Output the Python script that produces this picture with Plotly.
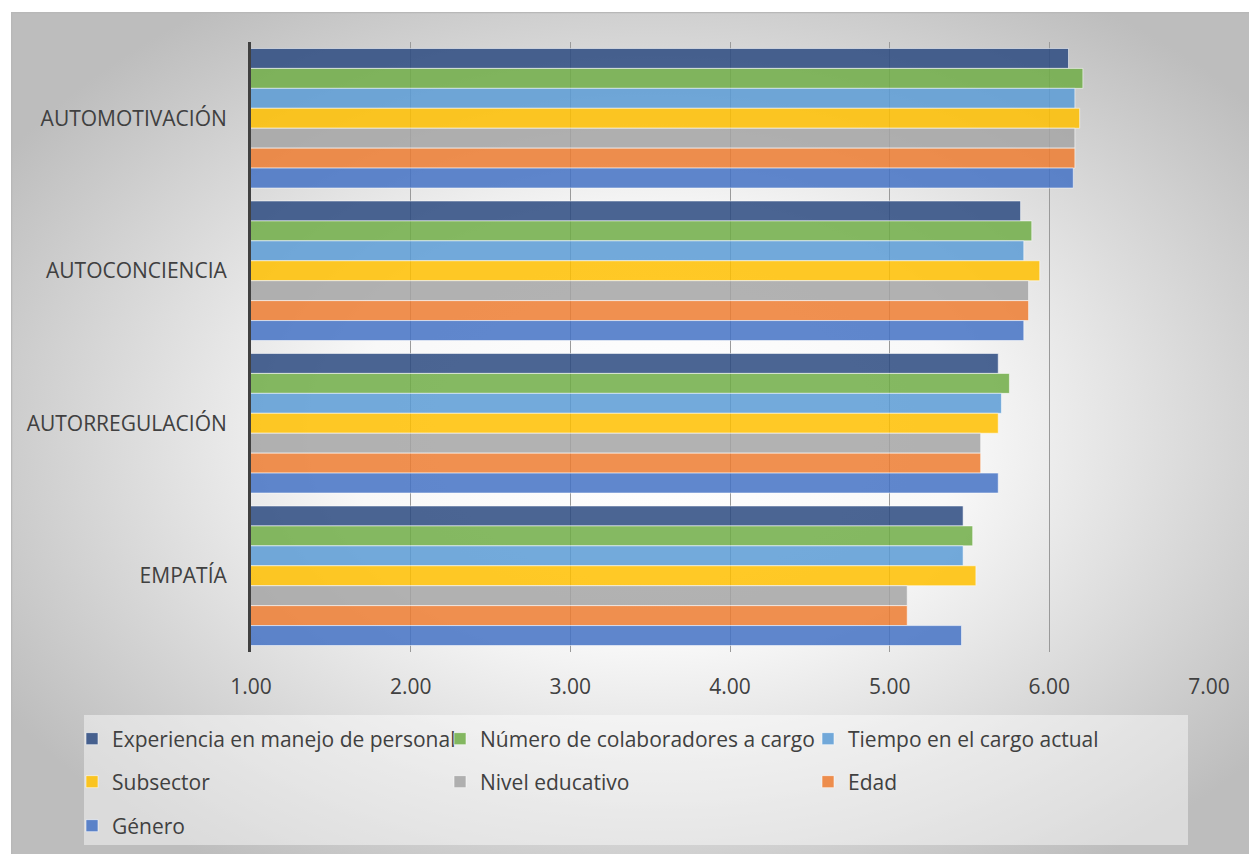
import base64
import plotly.graph_objects as go

categories = ["AUTOMOTIVACIÓN", "AUTOCONCIENCIA", "AUTORREGULACIÓN", "EMPATÍA"]

series_names = [
    "Experiencia en manejo de personal",
    "Número de colaboradores a cargo",
    "Tiempo en el cargo actual",
    "Subsector",
    "Nivel educativo",
    "Edad",
    "Género",
]

experiencia = [6.12, 5.82, 5.68, 5.46]
numero = [6.21, 5.89, 5.75, 5.52]
tiempo = [6.16, 5.84, 5.70, 5.46]
subsector = [6.19, 5.94, 5.68, 5.54]
nivel = [6.16, 5.87, 5.57, 5.11]
edad = [6.16, 5.87, 5.57, 5.11]
genero = [6.15, 5.84, 5.68, 5.45]

series_values = [experiencia, numero, tiempo, subsector, nivel, edad, genero]

x_ticks = [1, 2, 3, 4, 5, 6, 7]

colors = [
    "rgba(44,74,128,0.85)",
    "rgba(112,173,71,0.85)",
    "rgba(91,155,213,0.85)",
    "rgba(255,192,0,0.85)",
    "rgba(165,165,165,0.85)",
    "rgba(237,125,49,0.85)",
    "rgba(68,114,196,0.85)",
]
legend_ids = ["legend", "legend", "legend", "legend2", "legend2", "legend2", "legend3"]

fig = go.Figure()
for name, vals, col, lg in zip(series_names, series_values, colors, legend_ids):
    fig.add_trace(go.Bar(
        y=categories, x=vals, name=name, orientation="h",
        marker=dict(color=col, line=dict(color="rgba(255,255,255,0.55)", width=1)),
        legend=lg,
    ))

# gradient background panel (SVG)
svg = """<svg xmlns='http://www.w3.org/2000/svg' width='1238' height='842' viewBox='0 0 1238 842'>
<defs><radialGradient id='g' cx='52%' cy='50%' r='62%'>
<stop offset='0' stop-color='#ffffff'/>
<stop offset='0.4' stop-color='#f8f8f8'/>
<stop offset='1' stop-color='#bdbdbd'/>
</radialGradient></defs>
<rect x='0' y='0' width='1238' height='842' fill='url(#g)'/>
<rect x='0.5' y='0.5' width='1240' height='845' fill='none' stroke='#b8b8b8' stroke-width='1.5'/>
</svg>"""
src = "data:image/svg+xml;base64," + base64.b64encode(svg.encode()).decode()

L, R, T, B = 251, 40, 42, 202
W, H = 1249, 854
pw = W - L - R
ph = H - T - B

def px(x):
    return (x - L) / pw

def py(y):
    return (H - B - y) / ph

fig.add_layout_image(dict(
    source=src, xref="paper", yref="paper",
    x=px(11), y=py(12), sizex=(W - 11) / pw, sizey=(H - 12) / ph,
    xanchor="left", yanchor="top", sizing="stretch", layer="below",
))

fig.add_shape(type="rect", xref="paper", yref="paper",
              x0=px(84), x1=px(1188), y0=py(715), y1=py(845),
              fillcolor="rgba(255,255,255,0.45)", line=dict(width=0), layer="below")

font = dict(family="Open Sans", size=21, color="#404040")
legend_common = dict(orientation="h", xanchor="left", yanchor="middle",
                     entrywidth=323, entrywidthmode="pixels",
                     bgcolor="rgba(0,0,0,0)", font=font, traceorder="normal",
                     itemclick=False)

fig.update_layout(
    width=W, height=H,
    margin=dict(l=L, r=R, t=T, b=B, autoexpand=False),
    paper_bgcolor="white",
    plot_bgcolor="rgba(0,0,0,0)",
    barmode="group",
    bargap=0.085,
    bargroupgap=0,
    font=font,
    xaxis=dict(range=[1, 7], tickvals=x_ticks, tickformat=".2f",
               showgrid=True, gridcolor="#9a9a9a", gridwidth=1,
               zeroline=False, showline=False, ticks="",
               ticklabelstandoff=20, tickfont=font),
    yaxis=dict(categoryorder="array", categoryarray=categories,
               autorange="reversed", showgrid=False, zeroline=False,
               showline=True, linecolor="#404040", linewidth=3,
               ticks="", ticklabelstandoff=17, tickfont=font),
    legend=dict(x=px(72), y=py(739), **legend_common),
    legend2=dict(x=px(72), y=py(782), **legend_common),
    legend3=dict(x=px(72), y=py(826), **legend_common),
)

fig.write_html("out.html")
